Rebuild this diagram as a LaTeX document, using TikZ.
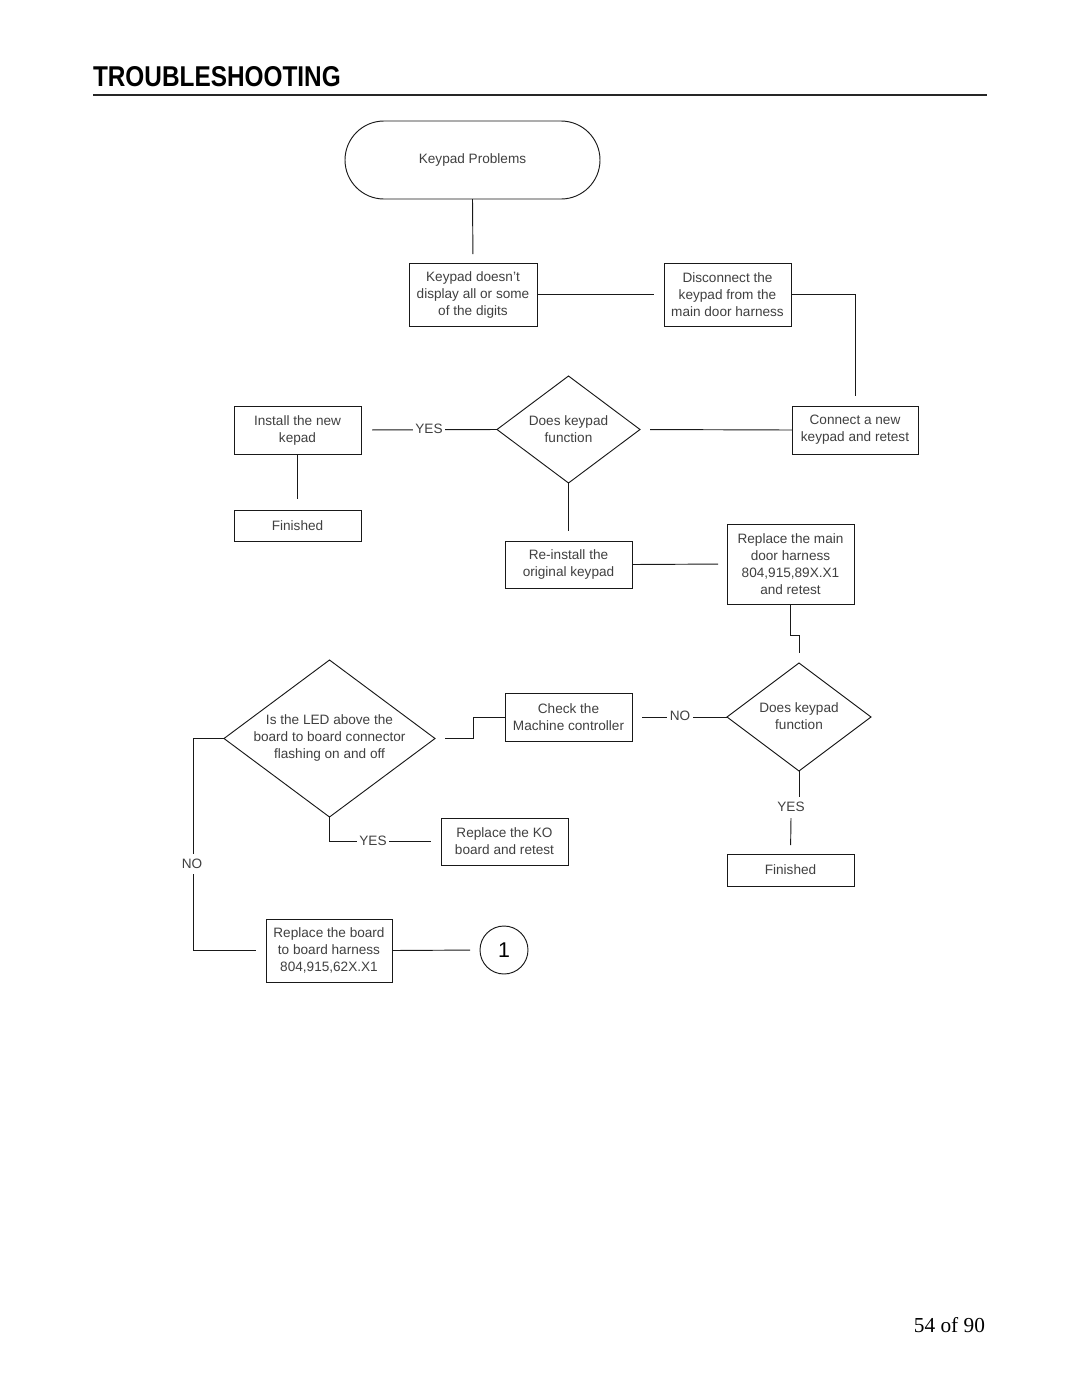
\documentclass[tikz,border=0pt]{standalone}
\usepackage{fontspec}
\usepackage{graphicx}
\setmainfont{Liberation Sans}
\newfontfamily\serifpg{Liberation Serif}
\usetikzlibrary{shapes.geometric}
\begin{document}
\begin{tikzpicture}[x=0.75pt,y=-0.75pt,
  every node/.style={inner sep=0pt, outer sep=0pt},
  txt/.style={font=\fontsize{10.2pt}{12.75pt}\selectfont, text=black!75, align=center},
  box/.style n args={2}{draw=black!90, line width=0.7pt, minimum width=#1*0.75pt, minimum height=#2*0.75pt, txt},
  dia/.style n args={2}{diamond, draw=black!90, line width=0.7pt, minimum width=#1*0.75pt, minimum height=#2*0.75pt},
  conn/.style={draw=black!90, line width=0.7pt},
  gapend/.style={shorten >=#1*0.75pt},
  gapstart/.style={shorten <=#1*0.75pt},
  lbl/.style={txt, fill=white, inner xsep=2pt, inner ysep=1pt},
]
\fill[white] (0,0) rectangle (1080,1397);
\useasboundingbox (0,0) rectangle (1080,1397);

% title
\node[anchor=base west, font=\bfseries\fontsize{21.5pt}{21.5pt}\selectfont] (title) at (93,86) {\scalebox{0.85}[1]{TROUBLESHOOTING}};
\draw[line width=1pt, black!85] (93,95) -- (987,95);
\node[anchor=base east, font=\serifpg\fontsize{16pt}{16pt}\selectfont] (pg) at (985,1332) {54 of 90};

% nodes
\node[draw=black!90, line width=0.7pt, rounded corners=29.25pt, minimum width=255*0.75pt, minimum height=78*0.75pt, txt] (term) at (472.5,160) {Keypad Problems};
\node[box={128}{63}] (b1) at (473,294.5) {Keypad doesn't\\display all or some\\of the digits};
\node[box={127}{63}] (b2) at (727.5,294.5) {Disconnect the\\keypad from the\\main door harness};
\node[box={126}{48}] (b3) at (855,430) {Connect a new\\keypad and retest};
\node[dia={143}{107}] (d1) at (568.5,429.5) {};
\node[txt] (d1t) at (568.5,429.5) {Does keypad\\function};
\node[box={127}{48}] (b4) at (297.5,430) {Install the new\\kepad};
\node[box={127}{31}] (b5) at (297.5,525.5) {Finished};
\node[box={127}{47}] (b6) at (568.5,564.5) {Re-install the\\original keypad};
\node[box={127}{80}] (b7) at (790.5,564) {Replace the main\\door harness\\804,915,89X.X1\\and retest};
\node[dia={144}{108}] (d2) at (799,717) {};
\node[txt] (d2t) at (799,716) {Does keypad\\function};
\node[box={127}{48}] (b8) at (568.5,717) {Check the\\Machine controller};
\node[dia={211}{157}] (d3) at (329.5,738.5) {};
\node[txt] (d3t) at (329.5,737.5) {Is the LED above the\\board to board connector\\flashing on and off};
\node[box={127}{47}] (b9) at (504.5,841.5) {Replace the KO\\board and retest};
\node[box={127}{32}] (b10) at (790.5,870) {Finished};
\node[box={126}{63}] (b11) at (329,950.5) {Replace the board\\to board harness\\804,915,62X.X1};
\node[circle, draw=black!90, line width=0.7pt, minimum size=48*0.75pt, font=\fontsize{16pt}{16pt}\selectfont] (c1) at (504,950) {1};

% connectors
\draw[conn, gapend=9] (term.south) -- (b1.north);
\draw[conn, gapend=10] (b1.east) -- (b2.west);
\draw[conn, gapend=10] (b2.east) -| (b3.north);
\draw[conn, gapend=10] (b3.west) -- (d1.east);
\draw[conn, gapend=11] (d1.west) -- (b4.east);
\node[lbl] (yes1) at (429,429) {YES};
\draw[conn, gapend=11] (b4.south) -- (b5.north);
\draw[conn, gapend=10] (d1.south) -- (b6.north);
\draw[conn, gapend=9] (b6.east) -- (b7.west);
\draw[conn, gapend=10] (b7.south) -- ++(0,31) -| (d2.north);
\draw[conn, gapend=10] (d2.west) -- (b8.east);
\node[lbl] (no1) at (680,716) {NO};
\draw[conn, gapstart=10] (d3.east) -- ++(38,0) |- (b8.west);
\draw[conn, gapend=10] (d3.south) |- (b9.west);
\node[lbl] (yes2) at (373,841) {YES};
\draw[conn, gapend=10] (d3.west) -- ++(-31,0) |- (b11.west);
\node[lbl, inner ysep=4pt] (no2) at (192,864) {NO};
\draw[conn, gapend=10] (b11.east) -- (c1.west);
\draw[conn] (d2.south) -- ++(0,26) coordinate (d2s);
\node[txt] (yes3) at (791,807) {YES};
\coordinate (yes3b) at (791,818);
\draw[conn, gapend=9] (yes3b) -- (b10.north);
\end{tikzpicture}
\end{document}
